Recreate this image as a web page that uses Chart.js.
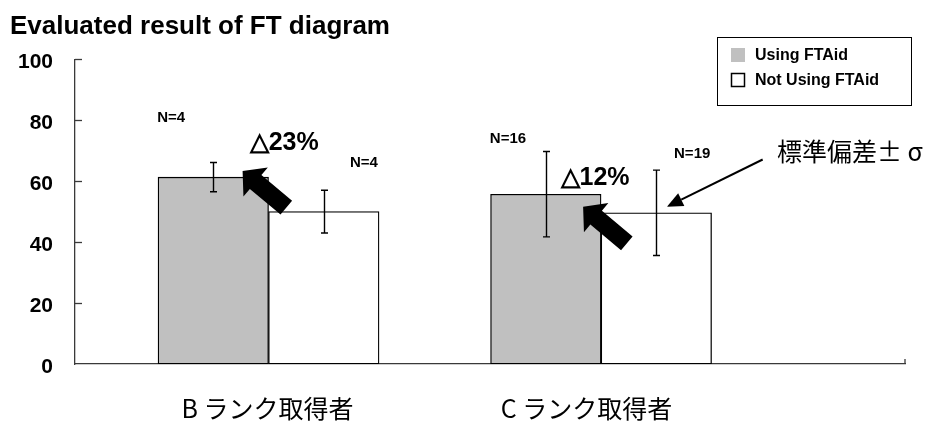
<!DOCTYPE html>
<html>
<head>
<meta charset="utf-8">
<script src="https://cdn.jsdelivr.net/npm/chart.js@4.4.1/dist/chart.umd.min.js"></script>
<style>
  html, body { margin: 0; padding: 0; background: #fff; }
  #wrap { width: 932px; height: 421px; }
</style>
</head>
<body>
<div id="wrap"><canvas id="c" width="932" height="421"></canvas></div>
<script>
// ---- data ----
const categories = ['B ランク取得者', 'C ランク取得者'];
const seriesNames = ['Using FTAid', 'Not Using FTAid'];
const usingMean = [61.3, 55.7];
const usingSd = [4.8, 14.0];
const notUsingMean = [50.0, 49.6];
const notUsingSd = [7.0, 14.0];
const usingN = [4, 16];
const notUsingN = [4, 19];
const improvement = ['△23%', '△12%'];
const sigmaNote = '標準偏差± σ';
const yTicks = [0, 20, 40, 60, 80, 100];

// group centres on the linear x axis
const groupPos = [0, 1];

// annotation anchors, in axis units
const notes = {
  nLabels: [
    [{ x: -0.293, y: 80.9 }, { x: 0.720, y: 74.0 }],
    [{ x: 0.287, y: 66.1 }, { x: 1.274, y: 69.1 }]
  ],
  delta: [{ x: 0.047, y: 72.4 }, { x: 0.982, y: 60.9 }],
  arrowTip: [{ x: -0.078, y: 63.3 }, { x: 0.946, y: 51.6 }],
  sigmaText: { x: 1.529, y: 69.8 },
  sigmaFrom: { x: 1.486, y: 67.1 },
  sigmaTo: { x: 1.198, y: 51.6 },
  categoryLabelAt: [-0.003, 0.956]
};

const AXIS = '#3a3a3a';
const SANS = "'Liberation Sans', Arial, sans-serif";
const CJK = "'Noto Sans CJK JP', sans-serif";

function blockArrow(ctx, x, y, angle) {
  const L = 57, head = 17, headHalf = 19, shaftHalf = 9;
  ctx.save();
  ctx.translate(x, y);
  ctx.rotate(angle);
  ctx.beginPath();
  ctx.moveTo(0, 0);
  ctx.lineTo(head, -headHalf);
  ctx.lineTo(head, -shaftHalf);
  ctx.lineTo(L, -shaftHalf);
  ctx.lineTo(L, shaftHalf);
  ctx.lineTo(head, shaftHalf);
  ctx.lineTo(head, headHalf);
  ctx.closePath();
  ctx.fillStyle = '#000';
  ctx.fill();
  ctx.restore();
}

function thinArrow(ctx, x0, y0, x1, y1) {
  const a = Math.atan2(y1 - y0, x1 - x0);
  const hl = 16, hw = 7;
  ctx.save();
  ctx.strokeStyle = '#000';
  ctx.fillStyle = '#000';
  ctx.lineWidth = 2;
  ctx.beginPath();
  ctx.moveTo(x0, y0);
  ctx.lineTo(x1 - Math.cos(a) * hl, y1 - Math.sin(a) * hl);
  ctx.stroke();
  ctx.translate(x1, y1);
  ctx.rotate(a);
  ctx.beginPath();
  ctx.moveTo(0, 0);
  ctx.lineTo(-hl, -hw);
  ctx.lineTo(-hl, hw);
  ctx.closePath();
  ctx.fill();
  ctx.restore();
}

const errorBars = {
  id: 'errorBars',
  afterDatasetsDraw(chart) {
    const ctx = chart.ctx;
    const ys = chart.scales.y;
    ctx.save();
    ctx.strokeStyle = '#000';
    ctx.lineWidth = 1.4;
    chart.data.datasets.forEach((ds, di) => {
      const meta = chart.getDatasetMeta(di);
      meta.data.forEach((bar, i) => {
        const m = ds.data[i].y, sd = ds.sd[i];
        const top = ys.getPixelForValue(m + sd);
        const bot = ys.getPixelForValue(m - sd);
        const x = Math.round(bar.x) + 0.5;
        ctx.beginPath();
        ctx.moveTo(x, top); ctx.lineTo(x, bot);
        ctx.moveTo(x - 3.5, top); ctx.lineTo(x + 3.5, top);
        ctx.moveTo(x - 3.5, bot); ctx.lineTo(x + 3.5, bot);
        ctx.stroke();
      });
    });
    ctx.restore();
  }
};

const decorations = {
  id: 'decorations',
  afterDraw(chart) {
    const ctx = chart.ctx;
    const xs = chart.scales.x, ys = chart.scales.y;
    const px = p => xs.getPixelForValue(p.x);
    const py = p => ys.getPixelForValue(p.y);
    const area = chart.chartArea;
    ctx.save();

    // inward tick marks on the value axis
    ctx.strokeStyle = AXIS;
    ctx.lineWidth = 1.3;
    yTicks.forEach(v => {
      if (v === 0) return;
      const y = Math.round(ys.getPixelForValue(v)) + 0.5;
      ctx.beginPath();
      ctx.moveTo(area.left, y); ctx.lineTo(area.left + 7, y);
      ctx.stroke();
    });
    // closing tick at the end of the category axis
    ctx.beginPath();
    ctx.moveTo(area.right, area.bottom); ctx.lineTo(area.right, area.bottom - 5);
    ctx.stroke();

    // sample sizes
    ctx.fillStyle = '#000';
    ctx.textAlign = 'center';
    ctx.textBaseline = 'middle';
    ctx.font = 'bold 15px ' + SANS;
    const ns = [usingN, notUsingN];
    notes.nLabels.forEach((row, si) => row.forEach((p, ci) => {
      ctx.fillText('N=' + ns[si][ci], px(p), py(p));
    }));

    // improvement arrows and labels
    notes.arrowTip.forEach(p => blockArrow(ctx, px(p), py(p), Math.atan2(36, 43)));
    ctx.font = 'bold 25px ' + SANS;
    notes.delta.forEach((p, i) => ctx.fillText(improvement[i], px(p), py(p)));

    // standard deviation note
    thinArrow(ctx, px(notes.sigmaFrom), py(notes.sigmaFrom), px(notes.sigmaTo), py(notes.sigmaTo));
    ctx.fillStyle = '#000';
    ctx.textAlign = 'left';
    ctx.textBaseline = 'middle';
    ctx.font = '25px ' + CJK;
    ctx.fillText(sigmaNote, px(notes.sigmaText), py(notes.sigmaText));

    // legend box
    const bx = 717, by = 37, bw = 194, bh = 68;
    ctx.fillStyle = '#fff';
    ctx.fillRect(bx, by, bw, bh);
    ctx.strokeStyle = '#000';
    ctx.lineWidth = 1;
    ctx.strokeRect(bx + 0.5, by + 0.5, bw, bh);
    ctx.font = 'bold 16px ' + SANS;
    ctx.textAlign = 'left';
    chart.data.datasets.forEach((ds, i) => {
      const cy = 55 + i * 25;
      ctx.fillStyle = ds.backgroundColor;
      ctx.fillRect(731, cy - 7, 14, 14);
      if (i === 1) {
        ctx.strokeStyle = '#000';
        ctx.lineWidth = 1.5;
        ctx.strokeRect(731.5, cy - 6.5, 13, 13);
      }
      ctx.fillStyle = '#000';
      ctx.fillText(ds.label, 755, cy + 1);
    });
    ctx.restore();
  }
};

new Chart(document.getElementById('c'), {
  type: 'bar',
  data: {
    datasets: [
      {
        label: seriesNames[0],
        data: groupPos.map((x, i) => ({ x, y: usingMean[i] })),
        sd: usingSd,
        backgroundColor: '#c0c0c0',
        borderColor: '#000',
        borderWidth: 1.3,
        borderSkipped: false,
        barThickness: 110.5
      },
      {
        label: seriesNames[1],
        data: groupPos.map((x, i) => ({ x, y: notUsingMean[i] })),
        sd: notUsingSd,
        backgroundColor: '#ffffff',
        borderColor: '#000',
        borderWidth: 1.3,
        borderSkipped: false,
        barThickness: 110.5
      }
    ]
  },
  options: {
    responsive: false,
    animation: false,
    events: [],
    layout: { padding: { left: 10, right: 27, top: 0, bottom: 0 } },
    plugins: {
      legend: { display: false },
      tooltip: { enabled: false },
      title: {
        display: true,
        text: 'Evaluated result of FT diagram',
        align: 'start',
        color: '#000',
        font: { family: SANS, size: 26, weight: 'bold' },
        padding: { top: 11, bottom: 17 }
      }
    },
    scales: {
      x: {
        type: 'linear',
        offset: false,
        min: -0.582,
        max: 1.914,
        grid: { display: false, drawTicks: false, offset: false },
        border: { display: true, color: AXIS, width: 1.3 },
        afterBuildTicks: s => { s.ticks = notes.categoryLabelAt.map(v => ({ value: v })); },
        afterFit: s => { s.height = 57; },
        ticks: {
          autoSkip: false,
          maxRotation: 0,
          padding: 29,
          color: '#000',
          font: { family: CJK, size: 25 },
          callback: (v, i) => categories[i]
        }
      },
      y: {
        min: 0,
        max: 100,
        grid: { display: false, drawTicks: false },
        border: { display: true, color: AXIS, width: 1.3 },
        afterBuildTicks: s => { s.ticks = yTicks.map(v => ({ value: v })); },
        afterFit: s => { s.width = 65; },
        ticks: {
          padding: 22,
          labelOffset: 3,
          color: '#000',
          font: { family: SANS, size: 21, weight: 'bold' }
        }
      }
    }
  },
  plugins: [errorBars, decorations]
});
</script>
</body>
</html>
